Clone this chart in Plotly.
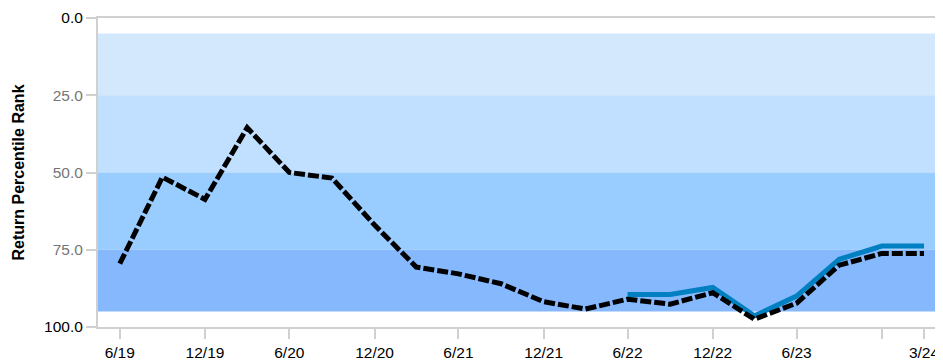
"""Return percentile rank chart."""
import plotly.graph_objects as go

quarters = [
    "2019-06-30", "2019-09-30", "2019-12-31", "2020-03-31",
    "2020-06-30", "2020-09-30", "2020-12-31", "2021-03-31",
    "2021-06-30", "2021-09-30", "2021-12-31", "2022-03-31",
    "2022-06-30", "2022-09-30", "2022-12-31", "2023-03-31",
    "2023-06-30", "2023-09-30", "2023-12-31", "2024-03-31",
]
benchmark_rank = [
    79.5, 51.5, 58.7, 35.5, 50.0, 51.8, 67.0, 80.6, 82.8, 86.0,
    91.8, 94.2, 91.0, 92.6, 88.9, 97.5, 92.3, 80.0, 76.2, 76.2,
]
fund_rank = [
    None, None, None, None, None, None, None, None, None, None,
    None, None, 89.5, 89.5, 87.2, 96.4, 90.0, 78.1, 73.8, 73.8,
]

# quartile bands: (from, to, colour)
bands = [
    (5, 25, "#d3e7fd"),
    (25, 50, "#c1dffe"),
    (50, 75, "#99ccff"),
    (75, 95, "#85b8fd"),
]

x_tickvals = [
    "2019-06-30", "2019-12-31", "2020-06-30", "2020-12-31", "2021-06-30",
    "2021-12-31", "2022-06-30", "2022-12-31", "2023-06-30", "2023-12-31",
    "2024-03-31",
]
x_ticktext = [
    "6/19", "12/19", "6/20", "12/20", "6/21",
    "12/21", "6/22", "12/22", "6/23", "", "3/24",
]
y_tickvals = [0, 25, 50, 75, 100]
y_ticktext = [
    "0.0",
    "<span style='color:#767676'>25.0</span>",
    "<span style='color:#767676'>50.0</span>",
    "<span style='color:#767676'>75.0</span>",
    "100.0",
]

fig = go.Figure()
fig.add_trace(
    go.Scatter(
        x=quarters,
        y=fund_rank,
        mode="lines",
        line=dict(color="#0080c0", width=5),
        connectgaps=False,
        hoverinfo="skip",
    )
)
fig.add_trace(
    go.Scatter(
        x=quarters,
        y=benchmark_rank,
        mode="lines",
        line=dict(color="#000000", width=5, dash="11px,3px"),
        hoverinfo="skip",
    )
)

for lo, hi, colour in bands:
    fig.add_shape(
        type="rect",
        xref="paper",
        yref="y",
        x0=0,
        x1=1,
        y0=lo,
        y1=hi,
        fillcolor=colour,
        line=dict(width=0),
        layer="below",
    )

# page body adds an 8px offset, so the figure is sized to end at the window edge
fig.update_layout(
    width=935,
    height=356,
    margin=dict(l=90, r=0, t=10, b=37),
    paper_bgcolor="white",
    plot_bgcolor="white",
    showlegend=False,
    font=dict(family="Liberation Sans, Arial, sans-serif", size=15, color="#000000"),
    xaxis=dict(
        type="date",
        range=["2019-05-14", "2024-05-11"],
        tickvals=x_tickvals,
        ticktext=x_ticktext,
        ticks="outside",
        ticklen=10,
        tickcolor="#d0d0d0",
        tickwidth=2,
        showgrid=False,
        zeroline=False,
        showline=True,
        linecolor="#d0d0d0",
        linewidth=2,
        mirror=True,
        automargin=False,
        tickfont=dict(size=15.5, color="#000000"),
    ),
    yaxis=dict(
        range=[100, 0],
        tickvals=y_tickvals,
        ticktext=y_ticktext,
        ticks="outside",
        ticklen=10,
        tickcolor="#d0d0d0",
        tickwidth=2,
        showgrid=False,
        zeroline=False,
        showline=True,
        linecolor="#d0d0d0",
        linewidth=2,
        automargin=False,
        tickfont=dict(size=15.5, color="#000000"),
        title=dict(
            text="<b>Return Percentile Rank</b>",
            font=dict(size=16, color="#000000"),
            standoff=16,
        ),
    ),
)

fig.write_html("out.html")
